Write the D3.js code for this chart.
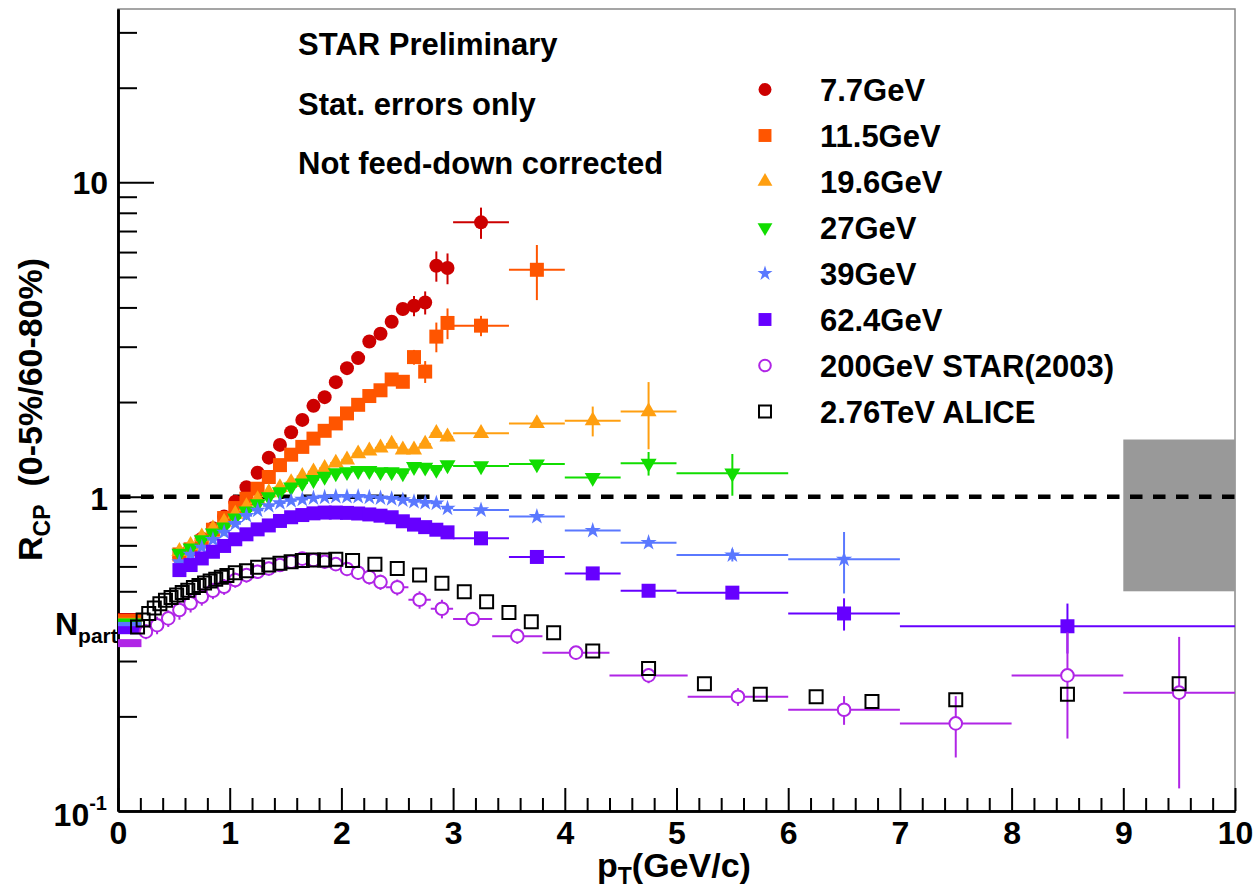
<!DOCTYPE html>
<html>
<head>
<meta charset="utf-8">
<script src="https://cdnjs.cloudflare.com/ajax/libs/d3/7.8.5/d3.min.js"></script>
<style>
  body { margin: 0; background: #fff; }
  svg text { font-family: "Liberation Sans", Arial, Helvetica, sans-serif; font-weight: bold; fill: #000; }
</style>
</head>
<body>
<div id="chart"></div>
<script>
// ---- data ----
var besPt = [0.55, 0.65, 0.75, 0.85, 0.95, 1.05, 1.15, 1.25, 1.35, 1.45, 1.55, 1.65, 1.75, 1.85, 1.95,
             2.05, 2.15, 2.25, 2.35, 2.45, 2.55, 2.65, 2.75, 2.85, 2.95, 3.25, 3.75, 4.25, 4.75, 5.5, 6.5, 8.5];
var besXerr = [0.05, 0.05, 0.05, 0.05, 0.05, 0.05, 0.05, 0.05, 0.05, 0.05, 0.05, 0.05, 0.05, 0.05, 0.05,
               0.05, 0.05, 0.05, 0.05, 0.05, 0.05, 0.05, 0.05, 0.05, 0.05, 0.25, 0.25, 0.25, 0.25, 0.5, 0.5, 1.5];

var r77 = [0.64, 0.68, 0.735, 0.793, 0.864, 0.964, 1.071, 1.192, 1.331, 1.461, 1.603, 1.755, 1.945, 2.073, 2.314,
           2.564, 2.76, 3.116, 3.297, 3.601, 3.953, 4.05, 4.148, 5.43, 5.34, 7.46];
var e77 = [0, 0, 0, 0, 0, 0, 0, 0, 0, 0, 0, 0, 0, 0, 0, 0, 0, 0, 0.08, 0.12, 0.18, 0.3, 0.35, 0.6, 0.6, 0.85];

var r115 = [0.655, 0.68, 0.72, 0.785, 0.855, 0.92, 0.985, 1.06, 1.155, 1.26, 1.36, 1.44, 1.53, 1.62, 1.71,
            1.84, 1.96, 2.09, 2.18, 2.36, 2.32, 2.78, 2.5, 3.23, 3.57, 3.5, 5.27];
var e115 = [0, 0, 0, 0, 0, 0, 0, 0, 0, 0, 0, 0, 0, 0, 0, 0, 0, 0, 0, 0.08, 0.1, 0.15, 0.2, 0.35, 0.4, 0.26, 1.05];

var r196 = [0.67, 0.7, 0.745, 0.79, 0.83, 0.88, 0.93, 0.98, 1.03, 1.07, 1.11, 1.16, 1.2, 1.23, 1.28,
            1.31, 1.37, 1.4, 1.43, 1.47, 1.41, 1.41, 1.47, 1.59, 1.55, 1.59, 1.71, 1.745, 1.865];
var e196 = [0, 0, 0, 0, 0, 0, 0, 0, 0, 0, 0, 0, 0, 0, 0, 0, 0, 0, 0, 0, 0, 0, 0, 0.05, 0.05, 0.04, 0.04, 0.19, 0.45];

var r27 = [0.66, 0.686, 0.728, 0.766, 0.8, 0.855, 0.9, 0.948, 0.998, 1.035, 1.073, 1.105, 1.133, 1.16, 1.19,
           1.2, 1.21, 1.21, 1.2, 1.2, 1.19, 1.246, 1.24, 1.22, 1.262, 1.252, 1.27, 1.15, 1.277, 1.187];
var e27 = [0, 0, 0, 0, 0, 0, 0, 0, 0, 0, 0, 0, 0, 0, 0, 0, 0, 0, 0, 0, 0, 0, 0, 0, 0.03, 0.03, 0.03, 0.03, 0.11, 0.18];

var r39 = [0.62, 0.655, 0.69, 0.73, 0.77, 0.82, 0.87, 0.905, 0.935, 0.955, 0.97, 0.98, 0.99, 0.995, 1.0,
           1.0, 1.0, 0.995, 0.99, 0.985, 0.976, 0.964, 0.957, 0.953, 0.918, 0.907, 0.864, 0.78, 0.714, 0.652, 0.632];
var e39 = [0, 0, 0, 0, 0, 0, 0, 0, 0, 0, 0, 0, 0, 0, 0, 0, 0, 0, 0, 0, 0, 0, 0, 0, 0,
           0.015, 0.015, 0.02, 0.02, 0.03, 0.14];

var r624 = [0.584, 0.606, 0.636, 0.668, 0.697, 0.732, 0.759, 0.787, 0.81, 0.837, 0.86, 0.874, 0.885, 0.89, 0.89,
            0.888, 0.884, 0.878, 0.87, 0.86, 0.835, 0.815, 0.8, 0.785, 0.77, 0.737, 0.643, 0.57, 0.502, 0.495, 0.425, 0.387];
var e624 = [0, 0, 0, 0, 0, 0, 0, 0, 0, 0, 0, 0, 0, 0, 0, 0, 0, 0, 0, 0, 0, 0, 0, 0, 0,
            0.012, 0.015, 0.015, 0.015, 0.02, 0.05, 0.07];

var pt200 = [0.25, 0.35, 0.45, 0.55, 0.65, 0.75, 0.85, 0.95, 1.05, 1.15, 1.25, 1.35, 1.45, 1.55, 1.65, 1.75, 1.85,
             1.95, 2.05, 2.15, 2.25, 2.35, 2.5, 2.7, 2.9, 3.175, 3.575, 4.1, 4.75, 5.55, 6.5, 7.5, 8.5, 9.5];
var xe200 = [0.05, 0.05, 0.05, 0.05, 0.05, 0.05, 0.05, 0.05, 0.05, 0.05, 0.05, 0.05, 0.05, 0.05, 0.05, 0.05, 0.05,
             0.05, 0.05, 0.05, 0.05, 0.05, 0.1, 0.1, 0.1, 0.175, 0.225, 0.3, 0.35, 0.45, 0.5, 0.5, 0.5, 0.5];
var r200 = [0.372, 0.39, 0.41, 0.436, 0.458, 0.48, 0.502, 0.517, 0.543, 0.563, 0.577, 0.591, 0.606, 0.621, 0.635,
            0.629, 0.621, 0.61, 0.589, 0.573, 0.555, 0.535, 0.515, 0.47, 0.44, 0.408, 0.36, 0.319, 0.27, 0.231,
            0.21, 0.19, 0.27, 0.238];
var e200 = [0.02, 0.025, 0.025, 0.03, 0.03, 0.03, 0.03, 0.03, 0.03, 0.03, 0.03, 0.03, 0.03, 0.03, 0.03, 0.03, 0.03,
            0.03, 0.03, 0.03, 0.03, 0.03, 0.03, 0.03, 0.03, 0.02, 0.02, 0.015, 0.015, 0.015, 0.022, 0.042, 0.1, 0.12];

var ptAlice = [0.175, 0.225, 0.275, 0.325, 0.375, 0.425, 0.475, 0.525, 0.575, 0.625, 0.675, 0.725, 0.775, 0.825,
               0.875, 0.925, 0.975, 1.05, 1.15, 1.25, 1.35, 1.45, 1.55, 1.65, 1.75, 1.85, 1.95,
               2.1, 2.3, 2.5, 2.7, 2.9, 3.1, 3.3, 3.5, 3.7, 3.9, 4.25, 4.75, 5.25, 5.75, 6.25, 6.75, 7.5, 8.5, 9.5];
var rAlice = [0.385, 0.405, 0.425, 0.442, 0.456, 0.468, 0.478, 0.487, 0.496, 0.504, 0.514, 0.522, 0.531, 0.539,
              0.546, 0.554, 0.561, 0.573, 0.581, 0.596, 0.606, 0.614, 0.621, 0.626, 0.629, 0.629, 0.632,
              0.626, 0.61, 0.591, 0.563, 0.53, 0.498, 0.463, 0.428, 0.4, 0.369, 0.323, 0.284, 0.254, 0.235,
              0.231, 0.223, 0.226, 0.235, 0.254];

// Npart scaling levels, one per collision energy (7.7 ... 200)
var npartLevels = [0.414, 0.411, 0.40, 0.398, 0.388, 0.376, 0.342];

var legendLabels = ['7.7GeV', '11.5GeV', '19.6GeV', '27GeV', '39GeV', '62.4GeV', '200GeV STAR(2003)', '2.76TeV ALICE'];
var noteLines = ['STAR Preliminary', 'Stat. errors only', 'Not feed-down corrected'];
var xTickValues = [0, 1, 2, 3, 4, 5, 6, 7, 8, 9, 10];
var normBand = [9, 10, 0.5, 1.52];   // pT from, pT to, low, high

// ---- drawing ----
var W = 1253, H = 890;
var svg = d3.select('#chart').append('svg')
  .attr('width', W).attr('height', H)
  .style('background', '#fff');

var x = d3.scaleLinear().domain([0, 10]).range([118, 1235]);
var y = d3.scaleLog().domain([0.1, 35.6]).range([811, 9]);

var series = [
  { pt: besPt, v: r77,  e: e77,  xe: besXerr, color: '#cc0000', shape: 'circle' },
  { pt: besPt, v: r115, e: e115, xe: besXerr, color: '#ff5500', shape: 'square' },
  { pt: besPt, v: r196, e: e196, xe: besXerr, color: '#ff9f10', shape: 'tri' },
  { pt: besPt, v: r27,  e: e27,  xe: besXerr, color: '#11dd00', shape: 'tridown' },
  { pt: besPt, v: r39,  e: e39,  xe: besXerr, color: '#5a78ff', shape: 'star' },
  { pt: besPt, v: r624, e: e624, xe: besXerr, color: '#6600ff', shape: 'square' },
  { pt: pt200, v: r200, e: e200, xe: xe200,  color: '#b025e6', shape: 'ocircle' },
  { pt: ptAlice, v: rAlice, e: null, xe: null, color: '#000000', shape: 'osquare' }
];

function markerPath(shape, k) {
  k = k || 1;
  if (shape === 'circle') return d3.symbol(d3.symbolCircle, k * Math.PI * 7 * 7)();
  if (shape === 'ocircle') return d3.symbol(d3.symbolCircle, k * Math.PI * 6.3 * 6.3)();
  if (shape === 'square') return d3.symbol(d3.symbolSquare, k * 14 * 14)();
  if (shape === 'osquare') return d3.symbol(d3.symbolSquare, k * 13 * 13)();
  if (shape === 'tri' || shape === 'tridown') return d3.symbol(d3.symbolTriangle, k * 112)();
  return d3.symbol(d3.symbolStar, k * 82)();
}

function drawMarker(g, shape, color, cx, cy, k) {
  var p = g.append('path')
    .attr('d', markerPath(shape, k))
    .attr('transform', 'translate(' + cx + ',' + cy + ')' + (shape === 'tridown' ? ' rotate(180)' : ''));
  if (shape === 'ocircle') {
    p.attr('fill', '#fff').attr('stroke', color).attr('stroke-width', 2);
  } else if (shape === 'osquare') {
    p.attr('fill', 'none').attr('stroke', color).attr('stroke-width', 2);
  } else {
    p.attr('fill', color);
  }
}

// frame
svg.append('rect')
  .attr('x', x(0)).attr('y', y(35.6))
  .attr('width', x(10) - x(0)).attr('height', y(0.1) - y(35.6))
  .attr('fill', 'none').attr('stroke', '#888').attr('stroke-width', 1.5);

// normalisation uncertainty box
svg.append('rect')
  .attr('x', x(normBand[0])).attr('y', y(normBand[3]))
  .attr('width', x(normBand[1]) - x(normBand[0]))
  .attr('height', y(normBand[2]) - y(normBand[3]))
  .attr('fill', '#999999');

// axes
var xMajor = d3.axisBottom(x).tickValues(xTickValues).tickSizeInner(-23).tickSizeOuter(0).tickPadding(10)
  .tickFormat(d3.format('d'));
var xMinor = d3.axisBottom(x).tickValues(d3.range(0, 10.01, 0.2).filter(function(d) { return Math.abs(d - Math.round(d)) > 0.01; }))
  .tickSizeInner(-13).tickSizeOuter(0).tickFormat('');
var gx = svg.append('g').attr('transform', 'translate(0,' + y(0.1) + ')');
gx.call(xMinor);
gx.append('g').call(xMajor);
gx.selectAll('path.domain').attr('stroke', '#000').attr('stroke-width', 2.5);
gx.selectAll('line').attr('stroke', '#000').attr('stroke-width', 2);
gx.selectAll('text').attr('font-size', 32).attr('fill', '#000');

var yMinorVals = [0.2, 0.3, 0.4, 0.5, 0.6, 0.7, 0.8, 0.9, 2, 3, 4, 5, 6, 7, 8, 9, 20, 30];
var gy = svg.append('g').attr('transform', 'translate(' + x(0) + ',0)');
gy.call(d3.axisLeft(y).tickValues(yMinorVals).tickSizeInner(-19).tickSizeOuter(0).tickFormat(''));
gy.append('g').call(d3.axisLeft(y).tickValues([1, 10]).tickSizeInner(-36).tickSizeOuter(0).tickFormat(''));
gy.selectAll('path.domain').attr('stroke', '#000').attr('stroke-width', 2.5);
gy.selectAll('line').attr('stroke', '#000').attr('stroke-width', 2);

// y tick labels
svg.append('text').attr('x', 108).attr('y', y(10) + 12).attr('text-anchor', 'end').attr('font-size', 32).text('10');
svg.append('text').attr('x', 108).attr('y', y(1) + 13).attr('text-anchor', 'end').attr('font-size', 32).text('1');
var tm = svg.append('text').attr('x', 107).attr('y', y(0.1) + 15).attr('text-anchor', 'end').attr('font-size', 32);
tm.append('tspan').text('10');
tm.append('tspan').attr('font-size', 20).attr('dy', -16).text('-1');

// y = 1 reference line
svg.append('line')
  .attr('x1', x(0)).attr('x2', x(10)).attr('y1', y(1)).attr('y2', y(1))
  .attr('stroke', '#000').attr('stroke-width', 4.5).attr('stroke-dasharray', '12.5,10.5');

// Npart levels
npartLevels.forEach(function(v, i) {
  var c = series[i].color;
  svg.append('rect')
    .attr('x', x(0)).attr('y', y(v) - 4)
    .attr('width', x(0.21) - x(0)).attr('height', 8)
    .attr('fill', c);
});

// data
series.forEach(function(s) {
  var g = svg.append('g');
  s.v.forEach(function(v, i) {
    var p = s.pt[i];
    if (s.xe && s.xe[i] > 0) {
      g.append('line')
        .attr('x1', x(p - s.xe[i])).attr('x2', x(p + s.xe[i]))
        .attr('y1', y(v)).attr('y2', y(v))
        .attr('stroke', s.color).attr('stroke-width', 2);
    }
    if (s.e && s.e[i] > 0) {
      g.append('line')
        .attr('x1', x(p)).attr('x2', x(p))
        .attr('y1', y(v - s.e[i])).attr('y2', y(v + s.e[i]))
        .attr('stroke', s.color).attr('stroke-width', 2);
    }
  });
  s.v.forEach(function(v, i) {
    drawMarker(g, s.shape, s.color, x(s.pt[i]), y(v));
  });
});

// Npart label
var np = svg.append('text').attr('x', 55).attr('y', 635).attr('font-size', 32);
np.append('tspan').text('N');
np.append('tspan').attr('font-size', 21).attr('dy', 8).text('part');

// axis titles
var xt = svg.append('text').attr('x', 597).attr('y', 877).attr('font-size', 34);
xt.append('tspan').text('p');
xt.append('tspan').attr('font-size', 23).attr('dy', 7).text('T');
xt.append('tspan').attr('dy', -7).text('(GeV/c)');

var yt = svg.append('text').attr('transform', 'translate(42,561) rotate(-90)').attr('font-size', 34);
yt.append('tspan').text('R');
yt.append('tspan').attr('font-size', 23).attr('dy', 8).text('CP');
yt.append('tspan').attr('dy', -8).attr('dx', 18).text('(0-5%/60-80%)');

// notes
noteLines.forEach(function(t, i) {
  svg.append('text').attr('x', 298).attr('y', 55 + i * 59.5).attr('font-size', 31).text(t);
});

// legend
var legend = svg.append('g');
legendLabels.forEach(function(t, i) {
  var cy = 89.5 + i * 46;
  drawMarker(legend, series[i].shape, series[i].color, 765, cy, 0.85);
  legend.append('text').attr('x', 820).attr('y', cy + 11).attr('font-size', 31).text(t);
});
</script>
</body>
</html>
